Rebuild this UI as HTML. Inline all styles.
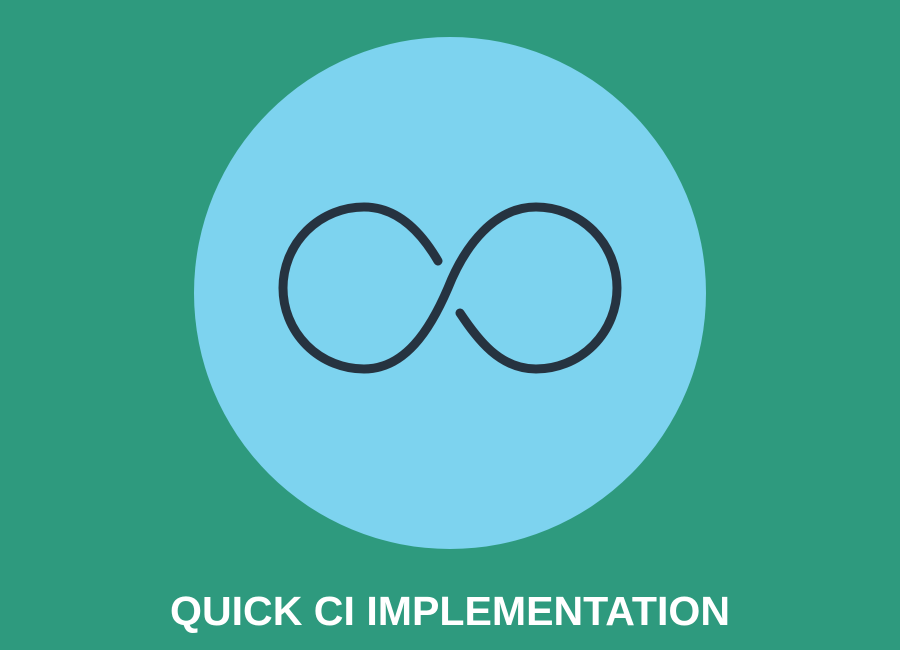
<!DOCTYPE html>
<html><head><meta charset="utf-8"><style>
html,body{margin:0;padding:0;width:900px;height:650px;overflow:hidden;background:#2E9A7E;}
</style></head><body>
<svg width="900" height="650" viewBox="0 0 900 650" xmlns="http://www.w3.org/2000/svg">
<rect width="900" height="650" fill="#2E9A7E"/>
<circle cx="450" cy="293" r="256" fill="#7DD3EF"/>
<path d="M438,261 C420,230 396,207 364,207 A81,81 0 0 0 364,369 C405,369 430,330 448,288 C465,245 495,207 536,207 A81,81 0 0 1 536,369 C500,369 478,340 460,313" fill="none" stroke="#263340" stroke-width="9" stroke-linecap="round"/>
<text x="450" y="625" text-anchor="middle" font-family="Liberation Sans, sans-serif" font-weight="bold" font-size="41" fill="#ffffff" textLength="560" lengthAdjust="spacingAndGlyphs">QUICK CI IMPLEMENTATION</text>
</svg>
</body></html>
